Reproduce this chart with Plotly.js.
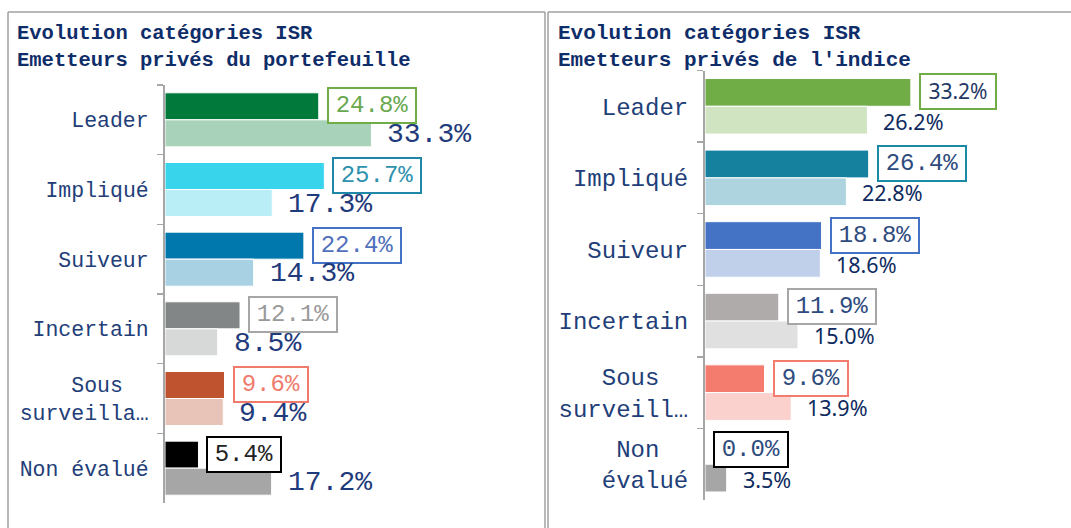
<!DOCTYPE html>
<html><head><meta charset="utf-8">
<script src="https://cdn.plot.ly/plotly-3.0.1.min.js"></script>
<style>html,body{margin:0;padding:0;background:#fff;} #chart{width:1071px;height:528px;}</style>
</head><body><div id="chart"></div>
<script>
// ---------- DATA ----------
const categories = ["Leader", "Impliqué", "Suiveur", "Incertain", "Sous surveillance", "Non évalué"];
const leftTickLabels = ["Leader", "Impliqué", "Suiveur", "Incertain", "Sous\u00A0\u00A0<br>surveilla…", "Non évalué"];
const rightTickLabels = ["Leader", "Impliqué", "Suiveur", "Incertain", "Sous\u00A0\u00A0<br>surveill…", "Non\u00A0\u00A0<br>évalué"];
const portfolioMain = [24.8, 25.7, 22.4, 12.1, 9.6, 5.4];
const portfolioSecond = [33.3, 17.3, 14.3, 8.5, 9.4, 17.2];
const indexMain = [33.2, 26.4, 18.8, 11.9, 9.6, 0.0];
const indexSecond = [26.2, 22.8, 18.6, 15.0, 13.9, 3.5];
const leftTitle = "Evolution catégories ISR<br>Emetteurs privés du portefeuille";
const rightTitle = "Evolution catégories ISR<br>Emetteurs privés de l'indice";

// ---------- STYLES ----------
const leftMainColors = ["#00793A", "#38D4EC", "#0077AD", "#838687", "#C0532F", "#000000"];
const leftSecondColors = ["#A9D2BA", "#BAEEF7", "#A8D1E3", "#D7D8D8", "#E8C4B8", "#A6A6A6"];
const leftBoxColors = ["#70AD47", "#1F88A8", "#4472C4", "#A6A6A6", "#F07B6C", "#000000"];
const leftBoxText = ["#6AA84F", "#2E92AE", "#5070BC", "#9A9A9A", "#F07B6C", "#222222"];
const rightMainColors = ["#70AD47", "#15819F", "#4472C4", "#AFABAB", "#F47C6F", "#000000"];
const rightSecondColors = ["#D0E4C2", "#ADD4DF", "#C0CFEA", "#E0E0E0", "#FAD1CC", "#A6A6A6"];
const rightBoxColors = ["#70AD47", "#1A8AA7", "#4472C4", "#A6A6A6", "#F47C6F", "#000000"];

const MONO = '"Liberation Mono", "Courier New", monospace';
const SANS = '"Noto Sans", Calibri, sans-serif';
const W = 1071, H = 528;
const BARGAP = 0.224;
const px = v => v / W;
const py = v => 1 - v / H;

const leftDom = {x0: 165, x1: 540, yTop: 85, yBot: 503};
const rightDom = {x0: 705, x1: 1066, yTop: 70.5, yBot: 500};
const PXPER = 6.2;

function barTrace(vals, labels, colors, xa, ya) {
  return {type: "bar", orientation: "h", x: vals, y: labels, xaxis: xa, yaxis: ya,
    marker: {color: colors, line: {color: "#FFFFFF", width: 1}},
    hoverinfo: "skip", showlegend: false};
}
const data = [
  barTrace(portfolioMain, leftTickLabels, leftMainColors, "x", "y"),
  barTrace(portfolioSecond, leftTickLabels, leftSecondColors, "x", "y"),
  barTrace(indexMain, rightTickLabels, rightMainColors, "x2", "y2"),
  barTrace(indexSecond, rightTickLabels, rightSecondColors, "x2", "y2")
];

const annotations = [];
function addLabels(mainVals, secVals, labels, dom, xa, ya, opts) {
  const band = (dom.yBot - dom.yTop) / labels.length;
  const off = band * (1 - BARGAP) / 4;
  mainVals.forEach((v, i) => {
    const txt = v.toFixed(1) + "%";
    const sansBox = opts.sansBox && opts.sansBox[i];
    const f = sansBox ? {family: SANS, size: 21, color: "#1F3864"} :
      {family: MONO, size: 24, color: opts.boxText[i]};
    annotations.push({x: v, y: labels[i], xref: xa, yref: ya, xanchor: "left", yanchor: "middle",
      xshift: 8, yshift: off + 0.5, showarrow: false, text: txt, font: f,
      bordercolor: opts.boxColors[i], borderwidth: 2, borderpad: 1, bgcolor: "#FFFFFF",
      width: sansBox ? 72 : txt.length * 14.4 + 12, height: 30.5, align: "center"});
  });
  // second bar labels drawn after boxes so they stay readable
  secVals.forEach((v, i) => {
    annotations.push({x: v, y: labels[i], xref: xa, yref: ya, xanchor: "left", yanchor: "middle",
      xshift: opts.secShift, yshift: -off - 1, showarrow: false, text: v.toFixed(1) + "%",
      font: opts.secFont});
  });
}
addLabels(portfolioMain, portfolioSecond, leftTickLabels, leftDom, "x", "y", {
  secShift: 14, secFont: {family: MONO, size: 28, color: "#1F3B7B"},
  boxColors: leftBoxColors, boxText: leftBoxText});
addLabels(indexMain, indexSecond, rightTickLabels, rightDom, "x2", "y2", {
  secShift: 14, secFont: {family: SANS, size: 21.5, color: "#0E2A5E"},
  boxColors: rightBoxColors, boxText: ["#1F3864", "#2E4B7E", "#2E4B7E", "#2E4B7E", "#2E4B7E", "#2E4B7E"],
  sansBox: [true, false, false, false, false, false]});

annotations.push({xref: "paper", yref: "paper", x: px(15), y: py(20), xanchor: "left", yanchor: "top",
  align: "left", showarrow: false, text: "<b>" + leftTitle + "</b>",
  font: {family: MONO, size: 20.5, color: "#0F2D69"}});
annotations.push({xref: "paper", yref: "paper", x: px(556), y: py(20), xanchor: "left", yanchor: "top",
  align: "left", showarrow: false, text: "<b>" + rightTitle + "</b>",
  font: {family: MONO, size: 21, color: "#0F2D69"}});

const BORDER = "#A0A0A0";
function line(x0, y0, x1, y1) {
  return {type: "line", xref: "paper", yref: "paper", x0: px(x0), y0: py(y0), x1: px(x1), y1: py(y1),
    line: {color: BORDER, width: 1.5}};
}
const shapes = [
  line(8, 12, 545, 12), line(8, 12, 8, 540), line(545, 12, 545, 540),
  line(548, 12, 1080, 12), line(548, 12, 548, 540)
];

function yAxis(dom, anchor, size, labels) {
  return {type: "category", categoryorder: "array", categoryarray: labels, anchor: anchor,
    domain: [1 - dom.yBot / H, 1 - dom.yTop / H], range: [labels.length - 0.5, -0.5],
    showline: true, linecolor: "#A6A6A6", linewidth: 2, ticks: "outside", ticklen: 6,
    tickwidth: 1.5, tickcolor: "#A6A6A6", tickson: "boundaries", showgrid: false, zeroline: false,
    tickfont: {family: MONO, size: size, color: "#223E78"}, ticklabelstandoff: 10, fixedrange: true};
}
function xAxis(dom, anchor) {
  return {domain: [px(dom.x0), px(dom.x1)], range: [0, (dom.x1 - dom.x0) / PXPER], anchor: anchor,
    visible: false, fixedrange: true};
}

const layout = {
  width: W, height: H, margin: {l: 0, r: 0, t: 0, b: 0},
  paper_bgcolor: "#FFFFFF", plot_bgcolor: "rgba(0,0,0,0)",
  barmode: "group", bargap: BARGAP, bargroupgap: 0, showlegend: false,
  xaxis: xAxis(leftDom, "y"), yaxis: yAxis(leftDom, "x", 21.5, leftTickLabels),
  xaxis2: xAxis(rightDom, "y2"), yaxis2: yAxis(rightDom, "x2", 24, rightTickLabels),
  annotations: annotations, shapes: shapes
};
Plotly.newPlot("chart", data, layout, {displayModeBar: false, staticPlot: true});
</script></body></html>
